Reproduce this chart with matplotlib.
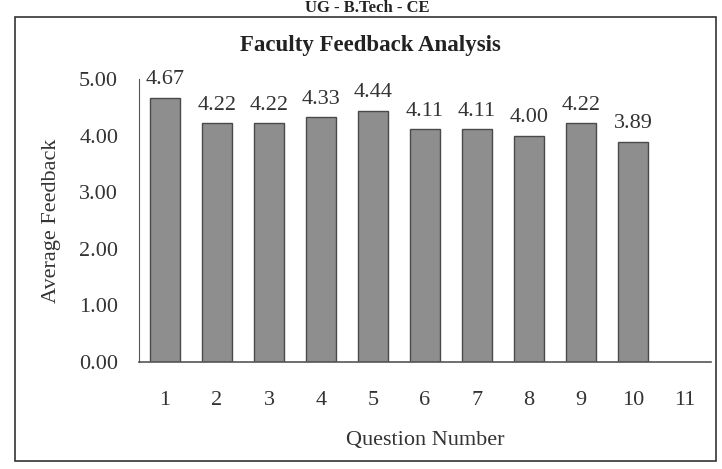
import matplotlib.pyplot as plt
from matplotlib.patches import Rectangle

## Data
questions = ['1', '2', '3', '4', '5', '6', '7', '8', '9', '10', '11']
avg_feedback = [4.67, 4.22, 4.22, 4.33, 4.44, 4.11, 4.11, 4.00, 4.22, 3.89]
y_ticks = [0, 1, 2, 3, 4, 5]

plt.rcParams['font.family'] = ['Liberation Serif', 'DejaVu Serif']

fig = plt.figure(figsize=(7.22, 4.69), dpi=100)
W, H = 722, 469

# outer frame of the chart area
fig.patches.append(Rectangle((15 / W, 1 - 461 / H), 701 / W, 444 / H,
                             transform=fig.transFigure, fill=False,
                             edgecolor='#333333', linewidth=1.2))

# header from the page (partly cut off in the scan)
fig.text(367 / W, 1 - 8 / H, 'UG - B.Tech - CE', ha='center', va='center',
         fontsize=12, fontweight='bold', color='#222222')

ax = fig.add_axes([139 / W, 1 - 362 / H, 572 / W, 283 / H])

x = list(range(len(questions)))
bars = ax.bar(x[:len(avg_feedback)], avg_feedback, width=0.58,
              color='#8e8e8e', edgecolor='#4a4a4a', linewidth=1.0)

for b, v in zip(bars, avg_feedback):
    ax.annotate('{:.2f}'.format(v), (b.get_x() + b.get_width() / 2, v),
                xytext=(0, 6), textcoords='offset points',
                ha='center', va='bottom', fontsize=16, color='#333333')

ax.set_xlim(-0.5, len(questions) - 0.5)
ax.set_ylim(0, 5)
ax.set_xticks(x)
ax.set_xticklabels(questions)
ax.set_yticks(y_ticks)
ax.set_yticklabels(['{:.2f}'.format(t) for t in y_ticks])
ax.tick_params(axis='both', length=0, labelsize=16, colors='#333333')
ax.tick_params(axis='x', pad=21)
ax.tick_params(axis='y', pad=15)

for s in ['top', 'right']:
    ax.spines[s].set_visible(False)
ax.spines['left'].set_color('#555555')
ax.spines['left'].set_linewidth(0.8)
ax.spines['bottom'].set_color('#555555')
ax.spines['bottom'].set_linewidth(1.2)

ax.set_xlabel('Question Number', fontsize=16, color='#333333', labelpad=15)
ax.set_ylabel('Average Feedback', fontsize=16, color='#333333', labelpad=13)

fig.text(370 / W, 1 - 46 / H, 'Faculty Feedback Analysis', ha='center',
         va='center', fontsize=16.5, fontweight='bold', color='#222222')

fig.savefig('out.png', dpi=100)
